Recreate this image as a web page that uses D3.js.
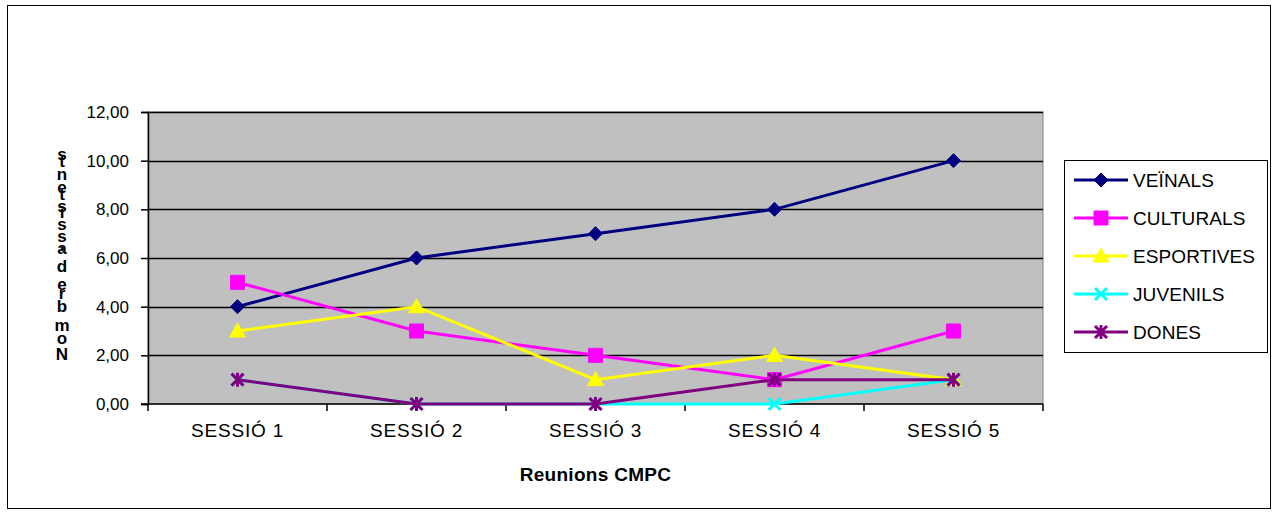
<!DOCTYPE html>
<html>
<head>
<meta charset="utf-8">
<script src="https://cdn.jsdelivr.net/npm/d3@7"></script>
<style>
  body { margin: 0; background: #fff; }
  svg { font-family: Arial, "Liberation Sans", sans-serif; }
</style>
</head>
<body>
<svg id="chart" width="1275" height="515"></svg>
<script>
// data
var sessions = ["SESSIÓ 1", "SESSIÓ 2", "SESSIÓ 3", "SESSIÓ 4", "SESSIÓ 5"];
var veinals = [4, 6, 7, 8, 10];
var culturals = [5, 3, 2, 1, 3];
var esportives = [3, 4, 1, 2, 1];
var juvenils = [1, 0, 0, 0, 1];
var dones = [1, 0, 0, 1, 1];
var yTicks = [0, 2, 4, 6, 8, 10, 12];

var series = [
    { name: "VEÏNALS", values: veinals, color: "#000080", marker: "diamond" },
    { name: "CULTURALS", values: culturals, color: "#FF00FF", marker: "square" },
    { name: "ESPORTIVES", values: esportives, color: "#FFFF00", marker: "triangle" },
    { name: "JUVENILS", values: juvenils, color: "#00FFFF", marker: "cross" },
    { name: "DONES", values: dones, color: "#800080", marker: "star" }
];

var svg = d3.select("#chart"),
    margin = { top: 112, left: 148 },
    width = 895,
    height = 292;

// outer frame
svg.append("rect")
    .attr("x", 7.5).attr("y", 5.5)
    .attr("width", 1263).attr("height", 503)
    .attr("fill", "#fff").attr("stroke", "#000").attr("stroke-width", 1);

var g = svg.append("g").attr("transform", "translate(" + margin.left + "," + margin.top + ")");

var x = d3.scaleBand().domain(sessions).range([0, width]);
var y = d3.scaleLinear().domain([0, 12]).range([height, 0]);

// plot area
g.append("rect")
    .attr("width", width).attr("height", height)
    .attr("fill", "#C0C0C0").attr("stroke", "#808080").attr("stroke-width", 1);

// gridlines
g.selectAll(".grid")
    .data(yTicks.filter(function (d) { return d > 0; }))
    .enter().append("line")
    .attr("x1", 0).attr("x2", width)
    .attr("y1", function (d) { return Math.round(y(d)) + 0.5; })
    .attr("y2", function (d) { return Math.round(y(d)) + 0.5; })
    .attr("stroke", "#000").attr("stroke-width", 1.3);

// y axis
var yAxis = g.append("g")
    .call(d3.axisLeft(y).tickValues(yTicks).tickSize(7).tickPadding(12)
        .tickFormat(function (d) { return d3.format(".2f")(d).replace(".", ","); }));
yAxis.select(".domain").attr("stroke", "#000").attr("stroke-width", 1.5);
yAxis.selectAll(".tick line").attr("stroke", "#000").attr("stroke-width", 1.5);
yAxis.selectAll("text").attr("font-size", 17).attr("fill", "#000")
    .attr("font-family", "Arial, 'Liberation Sans', sans-serif");

// x axis with ticks at category boundaries
var xAxis = g.append("g").attr("transform", "translate(0," + height + ")");
xAxis.append("line").attr("x1", -7).attr("x2", width)
    .attr("stroke", "#000").attr("stroke-width", 1.5);
xAxis.selectAll(".bt")
    .data(d3.range(sessions.length + 1))
    .enter().append("line")
    .attr("x1", function (i) { return i * x.bandwidth(); })
    .attr("x2", function (i) { return i * x.bandwidth(); })
    .attr("y1", 0).attr("y2", 7)
    .attr("stroke", "#000").attr("stroke-width", 1.5);
xAxis.selectAll(".lbl")
    .data(sessions)
    .enter().append("text")
    .attr("x", function (d) { return x(d) + x.bandwidth() / 2; })
    .attr("y", 33)
    .attr("text-anchor", "middle")
    .attr("font-size", 19)
    .attr("letter-spacing", 0.8)
    .text(function (d) { return d; });

// x axis title
svg.append("text")
    .attr("x", margin.left + width / 2).attr("y", 481)
    .attr("text-anchor", "middle")
    .attr("font-size", 19).attr("font-weight", "bold")
    .attr("letter-spacing", 0.3)
    .text("Reunions CMPC");

// y axis title: stacked glyphs, bottom to top
var yTitle = "Nombre d'assistents";
var yt = svg.append("g");
var probe = yt.append("text").attr("font-size", 17).attr("font-weight", "bold");
var widths = yTitle.split("").map(function (c) {
    probe.text(c === " " ? "\u00a0" : c);
    return probe.node().getComputedTextLength();
});
probe.remove();
var total = d3.sum(widths), span = 212, k = span / total, pos = 360;
yTitle.split("").forEach(function (c, i) {
    yt.append("text")
        .attr("x", 62).attr("y", pos)
        .attr("text-anchor", "middle")
        .attr("font-size", 17).attr("font-weight", "bold")
        .text(c);
    pos -= widths[i] * k;
});

// markers
function markerPath(type) {
    if (type === "diamond") return "M0,-7L7,0L0,7L-7,0Z";
    if (type === "square") return "M-7,-7H7V7H-7Z";
    if (type === "triangle") return "M0,-8L8,6H-8Z";
    if (type === "cross") return "M-6,-6L6,6M6,-6L-6,6";
    return "M-6,-6L6,6M6,-6L-6,6M0,-7V7";
}

var line = d3.line()
    .x(function (d, i) { return x(sessions[i]) + x.bandwidth() / 2; })
    .y(function (d) { return y(d); });

series.forEach(function (s) {
    var sg = g.append("g");
    sg.append("path")
        .datum(s.values)
        .attr("fill", "none")
        .attr("stroke", s.color)
        .attr("stroke-width", 3)
        .attr("d", line);
    sg.selectAll(".m")
        .data(s.values)
        .enter().append("path")
        .attr("transform", function (d, i) {
            return "translate(" + (x(sessions[i]) + x.bandwidth() / 2) + "," + y(d) + ")";
        })
        .attr("d", markerPath(s.marker))
        .attr("fill", s.marker === "cross" || s.marker === "star" ? "none" : s.color)
        .attr("stroke", s.color)
        .attr("stroke-width", s.marker === "cross" || s.marker === "star" ? 3 : 1);
});

// legend
var legend = svg.append("g").attr("transform", "translate(1064,160)");
legend.append("rect")
    .attr("x", 0.5).attr("y", 0.5).attr("width", 203).attr("height", 192)
    .attr("fill", "#fff").attr("stroke", "#000").attr("stroke-width", 1);
var items = legend.selectAll(".item")
    .data(series)
    .enter().append("g")
    .attr("transform", function (d, i) { return "translate(0," + (20 + i * 38) + ")"; });
items.append("line")
    .attr("x1", 10).attr("x2", 64)
    .attr("stroke", function (d) { return d.color; })
    .attr("stroke-width", 3);
items.append("path")
    .attr("transform", "translate(37,0)")
    .attr("d", function (d) { return markerPath(d.marker); })
    .attr("fill", function (d) { return d.marker === "cross" || d.marker === "star" ? "none" : d.color; })
    .attr("stroke", function (d) { return d.color; })
    .attr("stroke-width", function (d) { return d.marker === "cross" || d.marker === "star" ? 3 : 1; });
items.append("text")
    .attr("x", 69).attr("y", 7)
    .attr("font-size", 19)
    .attr("letter-spacing", 0.1)
    .text(function (d) { return d.name; });
</script>
</body>
</html>
